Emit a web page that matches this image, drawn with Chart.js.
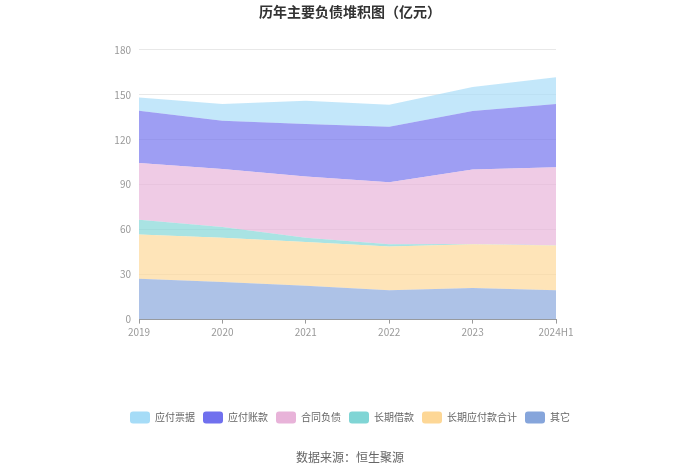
<!DOCTYPE html>
<html>
<head>
<meta charset="utf-8">
<script src="https://cdn.jsdelivr.net/npm/chart.js@4.4.0/dist/chart.umd.min.js"></script>
<style>
html,body{margin:0;padding:0;background:#fff;}
#wrap{width:700px;height:474px;position:relative;}
</style>
</head>
<body>
<div id="wrap"><canvas id="c" width="700" height="474"></canvas></div>
<script>
const categories = ['2019', '2020', '2021', '2022', '2023', '2024H1'];
const yTicks = [0, 30, 60, 90, 120, 150, 180];
// stacked bottom-first
const other = [27.3, 25.1, 22.6, 19.5, 21.1, 19.5];
const longTermPayables = [29.5, 29.5, 29.1, 29.3, 29.1, 30.0];
const longTermLoans = [9.8, 7.1, 2.9, 1.4, 0.2, 0.1];
const contractLiabilities = [37.9, 38.8, 40.8, 41.5, 49.7, 52.1];
const accountsPayable = [34.9, 32.2, 35.1, 37.0, 39.0, 42.2];
const notesPayable = [8.8, 11.1, 15.5, 14.7, 16.0, 17.8];

const seriesNames = ['其它', '长期应付款合计', '长期借款', '合同负债', '应付账款', '应付票据'];
const seriesData = [other, longTermPayables, longTermLoans, contractLiabilities, accountsPayable, notesPayable];
const baseColors = ['#86a5db', '#fdd796', '#80d5d5', '#e8b3d9', '#7070ee', '#a6dcf7'];

function rgba(hex, a) {
  const n = parseInt(hex.slice(1), 16);
  return 'rgba(' + ((n >> 16) & 255) + ',' + ((n >> 8) & 255) + ',' + (n & 255) + ',' + a + ')';
}

const CJK = '"Noto Sans CJK SC", "Noto Sans", sans-serif';

const datasets = seriesNames.map((name, i) => ({
  label: name,
  data: seriesData[i],
  backgroundColor: rgba(baseColors[i], 0.68),
  borderColor: 'rgba(0,0,0,0)',
  borderWidth: 0,
  pointRadius: 0,
  pointHoverRadius: 0,
  tension: 0,
  fill: i === 0 ? 'origin' : '-1',
  yAxisID: 'y'
}));

new Chart(document.getElementById('c'), {
  type: 'line',
  data: { labels: categories, datasets: datasets },
  options: {
    responsive: false,
    animation: false,
    devicePixelRatio: 1,
    layout: { padding: 0 },
    scales: {
      x: {
        offset: false,
        grid: { display: true, drawOnChartArea: false, drawTicks: true, tickLength: 4, color: '#9a9a9a' },
        border: { display: true, color: '#9a9a9a', width: 1 },
        ticks: { color: '#999', font: { size: 10, family: CJK }, padding: 3, maxRotation: 0, autoSkip: false },
        afterFit: s => { s.height = 84; }
      },
      y: {
        stacked: true,
        min: 0, max: 180,
        afterBuildTicks: s => { s.ticks = yTicks.map(v => ({ value: v })); },
        grid: { color: '#e8e8e8', drawTicks: false },
        border: { display: false },
        ticks: { color: '#999', font: { size: 10, family: CJK }, padding: 8 },
        afterFit: s => { s.width = 139; }
      },
      y2: {
        position: 'right',
        display: true,
        grid: { display: false, drawTicks: false },
        border: { display: false },
        ticks: { display: false },
        afterFit: s => { s.width = 144; }
      }
    },
    plugins: {
      title: {
        display: true,
        text: '历年主要负债堆积图（亿元）',
        color: '#333',
        font: { size: 14, weight: 'bold', family: CJK },
        padding: { top: 3, bottom: 30 }
      },
      subtitle: {
        display: true,
        position: 'bottom',
        text: '数据来源：恒生聚源',
        color: '#666',
        font: { size: 12, family: CJK },
        padding: { top: 17, bottom: 9 }
      },
      legend: {
        display: true,
        position: 'bottom',
        reverse: true,
        labels: {
          boxWidth: 20,
          boxHeight: 12,
          useBorderRadius: true,
          borderRadius: 3,
          padding: 8,
          color: '#666',
          font: { size: 10, family: CJK },
          generateLabels: chart => {
            const items = Chart.defaults.plugins.legend.labels.generateLabels(chart);
            items.forEach(it => {
              it.fillStyle = baseColors[it.datasetIndex];
              it.strokeStyle = baseColors[it.datasetIndex];
              it.lineWidth = 0;
            });
            return items;
          }
        }
      },
      tooltip: { enabled: false }
    }
  }
});
</script>
</body>
</html>
